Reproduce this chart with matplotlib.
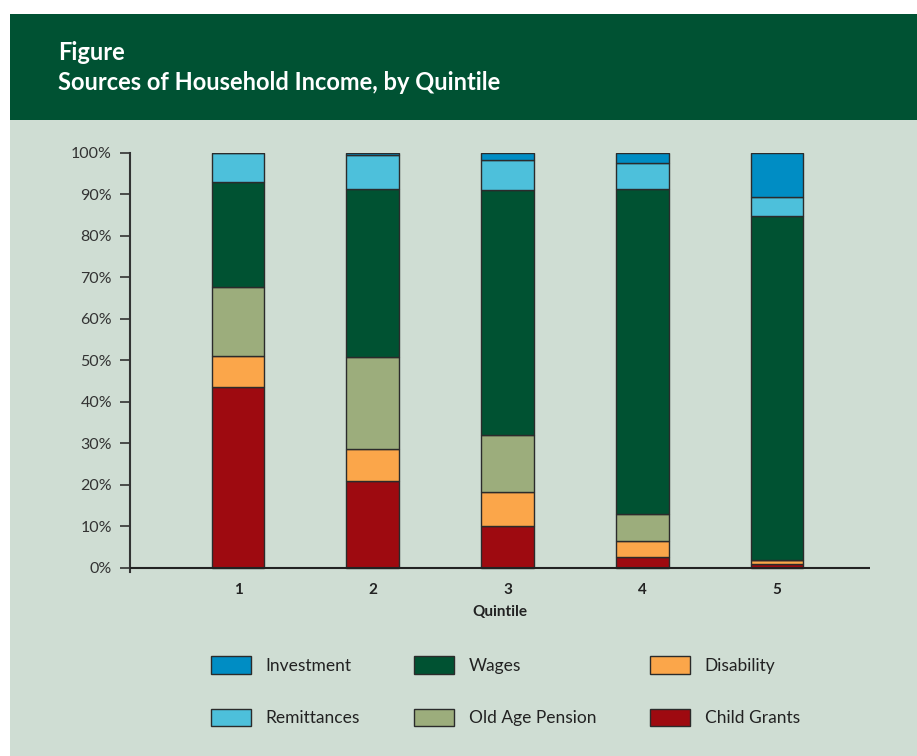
import matplotlib.pyplot as plt
from matplotlib.patches import Rectangle
import numpy as np

# Share of household income by source (%)
quintiles = ["1", "2", "3", "4", "5"]
child_grants = [43.6, 21.0, 10.1, 2.7, 1.0]
disability = [7.4, 7.7, 8.2, 3.8, 0.8]
old_age_pension = [16.6, 22.1, 13.7, 6.5, 0.0]
wages = [25.5, 40.6, 59.1, 78.4, 83.0]
remittances = [6.9, 8.0, 7.2, 6.3, 4.7]
investment = [0.0, 0.6, 1.7, 2.3, 10.5]

series = [
    ("Child Grants", child_grants, "#9e0a10"),
    ("Disability", disability, "#fba64a"),
    ("Old Age Pension", old_age_pension, "#9cad7c"),
    ("Wages", wages, "#005232"),
    ("Remittances", remittances, "#4dc0db"),
    ("Investment", investment, "#008dc4"),
]

plt.rcParams["font.family"] = ["Lato", "DejaVu Sans"]

fig = plt.figure(figsize=(9.17, 7.56), dpi=100, facecolor="white")

# header band and light panel
fig.patches.append(Rectangle((10 / 917, 0), 1, (756 - 120) / 756, transform=fig.transFigure,
                             facecolor="#cfddd3", edgecolor="none", zorder=-10))
fig.patches.append(Rectangle((10 / 917, (756 - 120) / 756), 1, 106 / 756, transform=fig.transFigure,
                             facecolor="#005233", edgecolor="none", zorder=-10))
fig.text(58 / 917, 1 - 53 / 756, "Figure", color="white", fontsize=17, fontweight="bold", va="center")
fig.text(58 / 917, 1 - 83 / 756, "Sources of Household Income, by Quintile", color="white",
         fontsize=17, fontweight="bold", va="center")

ax = fig.add_axes([130 / 917, (756 - 572) / 756, 740 / 917, 419 / 756])
ax.set_facecolor("none")
ax.set_zorder(1)

x = np.arange(1, len(quintiles) + 1)
bottom = np.zeros(len(quintiles))
handles = {}
for name, vals, col in series:
    b = ax.bar(x, vals, width=0.39, bottom=bottom, color=col, edgecolor="#2b2b2b", linewidth=1, zorder=3)
    handles[name] = b
    bottom += np.array(vals)

ax.set_xlim(1 - 108 / 134.75, 5 + 93 / 134.75)
ax.set_ylim(-1, 100)
ax.axhline(0, color="#222222", linewidth=1.5, zorder=4)

ax.set_yticks(range(0, 101, 10))
ax.set_yticklabels([f"{v}%" for v in range(0, 101, 10)], fontsize=11.5, color="#333333")
ax.set_xticks(x)
ax.set_xticklabels(quintiles, fontsize=11, fontweight="bold", color="#222222")
ax.tick_params(axis="y", direction="out", length=7, width=1.2, color="#333333", pad=6)
ax.tick_params(axis="x", length=0, pad=8)
ax.set_xlabel("Quintile", fontsize=11, fontweight="bold", color="#222222", labelpad=6)

for s in ["top", "right", "bottom"]:
    ax.spines[s].set_visible(False)
ax.spines["left"].set_color("#333333")
ax.spines["left"].set_linewidth(1.5)

order = ["Investment", "Remittances", "Wages", "Old Age Pension", "Disability", "Child Grants"]
leg = fig.legend([handles[n] for n in order], order, ncol=3, frameon=False,
                 loc="upper left", bbox_to_anchor=(211 / 917, 1 - 656 / 756),
                 borderpad=0, borderaxespad=0, fontsize=12.5,
                 handlelength=2.3, handleheight=1.2, handletextpad=0.85,
                 columnspacing=3.1, labelspacing=2.0)
for t in leg.get_texts():
    t.set_color("#222222")

fig.savefig("out.png", dpi=100, facecolor="white")
